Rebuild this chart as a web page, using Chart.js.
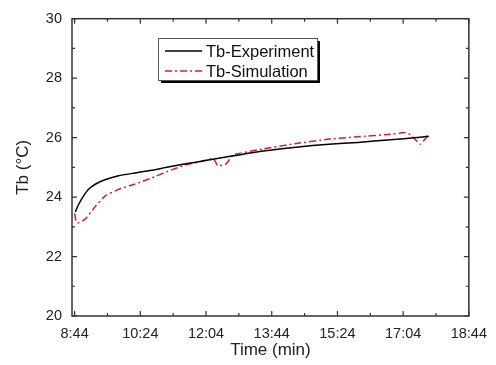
<!DOCTYPE html>
<html>
<head>
<meta charset="utf-8">
<script src="https://cdn.jsdelivr.net/npm/chart.js@4.4.1/dist/chart.umd.min.js"></script>
<style>
  html, body { margin: 0; padding: 0; background: #fff; }
  #wrap { width: 496px; height: 365px; }
</style>
</head>
<body>
<div id="wrap"><canvas id="tbChart" width="496" height="365"></canvas></div>
<script>
// time in minutes after midnight (8:44 = 524)
const expTime = [525, 530, 536, 541, 546, 556, 571, 591, 616, 641, 666, 691, 721, 761, 811, 861, 911, 955, 1005, 1045, 1063];
const expTb   = [23.5, 23.75, 23.98, 24.15, 24.28, 24.44, 24.59, 24.72, 24.81, 24.9, 25.01, 25.11, 25.22, 25.37, 25.55, 25.68, 25.78, 25.84, 25.93, 26.0, 26.05];

const simTime = [524, 526, 529, 536, 541, 556, 571, 591, 616, 641, 666, 691, 721, 735, 742, 755, 765, 811, 861, 911, 955, 1005, 1025, 1035, 1050, 1063];
const simTb   = [23.45, 23.2, 23.13, 23.2, 23.28, 23.7, 24.05, 24.26, 24.44, 24.64, 24.87, 25.07, 25.22, 25.3, 25.05, 25.12, 25.42, 25.62, 25.8, 25.95, 26.03, 26.11, 26.17, 26.1, 25.78, 26.1];

const xMajor = [524, 624, 724, 824, 924, 1024, 1124];
const xMinor = [574, 674, 774, 874, 974, 1074];
const yMajor = [20, 22, 24, 26, 28, 30];
const yMinor = [21, 23, 25, 27, 29];

const seriesNames = ['Tb-Experiment', 'Tb-Simulation'];

function fmtTime(m) {
    const h = Math.floor(m / 60);
    const mm = m % 60;
    return h + ':' + (mm < 10 ? '0' : '') + mm;
}

const FONT = 'Liberation Sans, Arial, sans-serif';
const RED = 'rgb(220, 30, 40)';

// inward ticks, full frame and boxed legend like the original
const framePlugin = {
    id: 'framePlugin',
    afterDraw(chart) {
        const c = chart.ctx;
        const a = chart.chartArea;
        const xs = chart.scales.x, ys = chart.scales.y;
        c.save();
        c.strokeStyle = '#333';
        c.lineWidth = 1.5;
        c.strokeRect(a.left, a.top, a.right - a.left, a.bottom - a.top);

        c.lineWidth = 1.2;
        c.beginPath();
        xMajor.forEach(v => {
            const px = xs.getPixelForValue(v);
            c.moveTo(px, a.bottom); c.lineTo(px, a.bottom - 5);
            c.moveTo(px, a.top); c.lineTo(px, a.top + 5);
        });
        xMinor.forEach(v => {
            const px = xs.getPixelForValue(v);
            c.moveTo(px, a.bottom); c.lineTo(px, a.bottom - 3);
            c.moveTo(px, a.top); c.lineTo(px, a.top + 3);
        });
        yMajor.forEach(v => {
            const py = ys.getPixelForValue(v);
            c.moveTo(a.left, py); c.lineTo(a.left + 5, py);
            c.moveTo(a.right, py); c.lineTo(a.right - 5, py);
        });
        yMinor.forEach(v => {
            const py = ys.getPixelForValue(v);
            c.moveTo(a.left, py); c.lineTo(a.left + 3, py);
            c.moveTo(a.right, py); c.lineTo(a.right - 3, py);
        });
        c.stroke();

        // legend box with shadow
        const lx = 158, ly = 38, lw = 159, lh = 42;
        c.fillStyle = '#000';
        c.fillRect(lx + 3, ly + 3, lw, lh);
        c.fillStyle = '#fff';
        c.fillRect(lx, ly, lw, lh);
        c.strokeStyle = '#555';
        c.lineWidth = 1;
        c.strokeRect(lx + 0.5, ly + 0.5, lw, lh);

        c.font = '16.5px ' + FONT;
        c.textBaseline = 'middle';
        c.textAlign = 'left';
        const rows = [
            { y: ly + 13, color: '#000', dash: [] },
            { y: ly + 33, color: RED, dash: [7, 3, 2, 3] }
        ];
        rows.forEach((r, i) => {
            c.strokeStyle = r.color;
            c.lineWidth = 1.5;
            c.setLineDash(r.dash);
            c.beginPath();
            c.moveTo(lx + 7, r.y); c.lineTo(lx + 44, r.y);
            c.stroke();
            c.setLineDash([]);
            c.fillStyle = '#111';
            c.fillText(seriesNames[i], lx + 48, r.y + 1);
        });
        c.restore();
    }
};

const ctx = document.getElementById('tbChart').getContext('2d');
const tbChart = new Chart(ctx, {
    type: 'scatter',
    data: {
        datasets: [{
            label: seriesNames[0],
            data: expTime.map((t, i) => ({ x: t, y: expTb[i] })),
            showLine: true,
            borderColor: '#000',
            borderWidth: 1.5,
            pointRadius: 0,
            tension: 0.2
        }, {
            label: seriesNames[1],
            data: simTime.map((t, i) => ({ x: t, y: simTb[i] })),
            showLine: true,
            borderColor: RED,
            borderWidth: 1.5,
            borderDash: [7, 3, 2, 3],
            pointRadius: 0,
            tension: 0.1
        }]
    },
    options: {
        responsive: false,
        animation: false,
        layout: { padding: { top: 16, right: 20, left: 0, bottom: 0 } },
        plugins: {
            legend: { display: false },
            tooltip: { enabled: false }
        },
        scales: {
            x: {
                type: 'linear',
                min: 520,
                max: 1124,
                afterBuildTicks: s => { s.ticks = xMajor.map(v => ({ value: v })); },
                afterFit: s => { s.height = 49; },
                grid: { display: false, drawTicks: false },
                border: { display: false },
                ticks: {
                    padding: 9,
                    color: '#222',
                    font: { family: FONT, size: 14.5 },
                    maxRotation: 0,
                    callback: v => fmtTime(v)
                },
                title: {
                    display: true,
                    text: 'Time (min)',
                    color: '#222',
                    font: { family: FONT, size: 17 },
                    padding: { top: 0, bottom: 4 }
                }
            },
            y: {
                min: 20,
                max: 30,
                afterBuildTicks: s => { s.ticks = yMajor.map(v => ({ value: v })); },
                afterFit: s => { s.width = 72; },
                grid: { display: false, drawTicks: false },
                border: { display: false },
                ticks: {
                    padding: 10,
                    color: '#222',
                    font: { family: FONT, size: 14.5 }
                },
                title: {
                    display: true,
                    text: 'Tb (°C)',
                    color: '#222',
                    font: { family: FONT, size: 17 },
                    padding: { top: 13, bottom: 0 }
                }
            }
        }
    },
    plugins: [framePlugin]
});
</script>
</body>
</html>
